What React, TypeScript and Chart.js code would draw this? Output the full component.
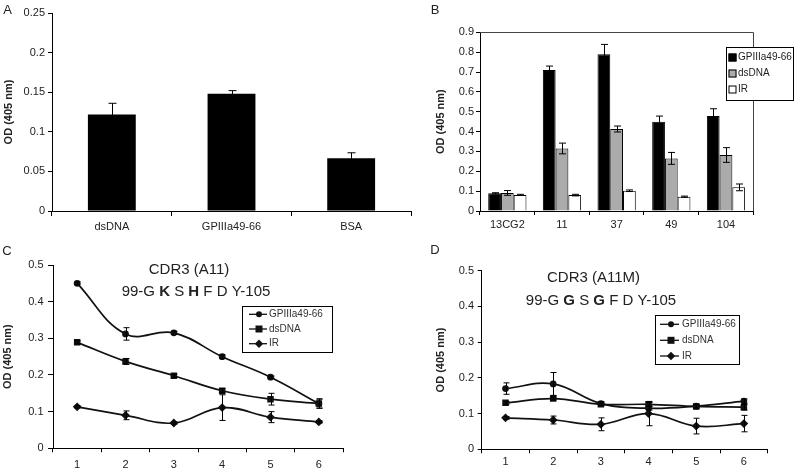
import React, { useEffect, useRef } from "react";
import { Chart, registerables } from "chart.js";
Chart.register(...registerables);

const FONT = "'Liberation Sans', Arial, Helvetica, sans-serif";
const TEXT = "#222";

// ---------- Panel A ----------
const catsA = ["dsDNA", "GPIIIa49-66", "BSA"];
const valsA = [0.122, 0.148, 0.0665];
const errsA = [0.014, 0.004, 0.007];
const yTicksA = ["0", "0.05", "0.1", "0.15", "0.2", "0.25"];

// ---------- Panel B ----------
const seriesNames = ["GPIIIa49-66", "dsDNA", "IR"];
const catsB = ["13CG2", "11", "37", "49", "104"];
const gpB = [0.089, 0.71, 0.79, 0.45, 0.478];
const gpErrB = [0.003, 0.02, 0.049, 0.028, 0.037];
const dsB = [0.091, 0.315, 0.413, 0.265, 0.282];
const dsErrB = [0.012, 0.027, 0.015, 0.03, 0.037];
const irB = [0.081, 0.08, 0.102, 0.072, 0.119];
const irErrB = [0.003, 0.004, 0.004, 0.003, 0.017];
const yTicksB = ["0", "0.1", "0.2", "0.3", "0.4", "0.5", "0.6", "0.7", "0.8", "0.9"];

// ---------- Panels C / D ----------
const catsCD = ["1", "2", "3", "4", "5", "6"];
const yTicksCD = ["0", "0.1", "0.2", "0.3", "0.4", "0.5"];

const gpC = [0.45, 0.312, 0.315, 0.25, 0.194, 0.122];
const gpErrC = [0.004, 0.017, 0.004, 0.005, 0.003, 0.013];
const dsC = [0.289, 0.237, 0.198, 0.157, 0.134, 0.122];
const dsErrC = [0.004, 0.008, 0.004, 0.006, 0.016, 0.012];
const irC = [0.113, 0.09, 0.069, 0.111, 0.085, 0.072];
const irErrC = [0.003, 0.012, 0.003, 0.035, 0.015, 0.003];

const gpD = [0.17, 0.183, 0.128, 0.115, 0.121, 0.135];
const gpErrD = [0.016, 0.032, 0.005, 0.005, 0.005, 0.006];
const dsD = [0.13, 0.142, 0.126, 0.126, 0.12, 0.118];
const dsErrD = [0.004, 0.004, 0.004, 0.005, 0.005, 0.008];
const irD = [0.088, 0.082, 0.07, 0.1, 0.065, 0.072];
const irErrD = [0.004, 0.011, 0.018, 0.034, 0.022, 0.023];

const titleC1: [string, boolean][] = [["CDR3 (A11)", false]];
const titleC2: [string, boolean][] = [["99-G ", false], ["K", true], [" S ", false], ["H", true], [" F D Y-105", false]];
const titleD1: [string, boolean][] = [["CDR3 (A11M)", false]];
const titleD2: [string, boolean][] = [["99-G ", false], ["G", true], [" S ", false], ["G", true], [" F D Y-105", false]];

const markerStyles = ["circle", "rect", "rectRot"];
const yTitle = "OD (405 nm)";

// ---------- helpers ----------
function drawMarker(ctx: CanvasRenderingContext2D, style: string, x: number, y: number) {
  ctx.beginPath();
  if (style === "circle") {
    ctx.arc(x, y, 3, 0, Math.PI * 2);
  } else if (style === "rect") {
    ctx.rect(x - 3.5, y - 3.5, 7, 7);
  } else {
    ctx.moveTo(x, y - 4.2);
    ctx.lineTo(x + 4.2, y);
    ctx.lineTo(x, y + 4.2);
    ctx.lineTo(x - 4.2, y);
    ctx.closePath();
  }
  ctx.fill();
}

const errPlugin = {
  id: "errbars",
  afterDatasetsDraw(chart: any, _a: any, o: any) {
    const ctx = chart.ctx;
    const cap = (o && o.cap) || 3;
    ctx.save();
    ctx.strokeStyle = "#000";
    ctx.lineWidth = 1;
    chart.data.datasets.forEach((ds: any, i: number) => {
      if (!ds.errors) return;
      const meta = chart.getDatasetMeta(i);
      const ys = chart.scales[meta.yAxisID];
      meta.data.forEach((el: any, j: number) => {
        const v = ds.data[j];
        const e = ds.errors[j];
        if (!e) return;
        const x = Math.round(el.x) + 0.5;
        const t = ys.getPixelForValue(v + e);
        const b = ys.getPixelForValue(v - e);
        ctx.beginPath();
        ctx.moveTo(x, t);
        ctx.lineTo(x, b);
        ctx.moveTo(x - cap, t);
        ctx.lineTo(x + cap, t);
        ctx.moveTo(x - cap, b);
        ctx.lineTo(x + cap, b);
        ctx.stroke();
      });
    });
    ctx.restore();
  },
};

function drawRich(ctx: CanvasRenderingContext2D, segs: [string, boolean][], cx: number, cy: number, size: number) {
  const fonts = segs.map(([, b]) => `${b ? "bold " : ""}${size}px ${FONT}`);
  let total = 0;
  const widths = segs.map(([t], i) => {
    ctx.font = fonts[i];
    const w = ctx.measureText(t).width;
    total += w;
    return w;
  });
  let x = cx - total / 2;
  ctx.textAlign = "left";
  ctx.textBaseline = "middle";
  segs.forEach(([t], i) => {
    ctx.font = fonts[i];
    ctx.fillText(t, x, cy);
    x += widths[i];
  });
}

const decoPlugin = {
  id: "deco",
  afterDraw(chart: any, _a: any, o: any) {
    const ctx: CanvasRenderingContext2D = chart.ctx;
    ctx.save();
    ctx.fillStyle = TEXT;
    if (o.letter) {
      ctx.font = `13px ${FONT}`;
      ctx.textAlign = "center";
      ctx.textBaseline = "middle";
      ctx.fillText(o.letter.text, o.letter.x, o.letter.y);
    }
    if (o.frame) {
      const a = chart.chartArea;
      ctx.strokeStyle = "#444";
      ctx.lineWidth = 1;
      ctx.beginPath();
      ctx.moveTo(Math.round(a.left), Math.round(a.top) + 0.5);
      ctx.lineTo(Math.round(a.right) + 0.5, Math.round(a.top) + 0.5);
      ctx.lineTo(Math.round(a.right) + 0.5, Math.round(a.bottom));
      ctx.stroke();
    }
    if (o.titles) {
      o.titles.forEach((tl: any) => {
        ctx.fillStyle = TEXT;
        drawRich(ctx, tl.segs, tl.x, tl.y, tl.size);
      });
    }
    if (o.boxLegend) {
      const L = o.boxLegend;
      ctx.fillStyle = "#fff";
      ctx.fillRect(L.x, L.y, L.w, L.h);
      ctx.strokeStyle = "#000";
      ctx.lineWidth = 1;
      ctx.strokeRect(L.x + 0.5, L.y + 0.5, L.w, L.h);
      L.items.forEach((it: any, i: number) => {
        const y = L.rows[i];
        ctx.fillStyle = it.fill;
        ctx.fillRect(L.sx, y - 4, 8, 8);
        ctx.strokeStyle = "#000";
        ctx.strokeRect(L.sx + 0.5, y - 3.5, 7, 7);
        ctx.fillStyle = TEXT;
        ctx.font = `${L.size}px ${FONT}`;
        ctx.textAlign = "left";
        ctx.textBaseline = "middle";
        ctx.fillText(it.label, L.tx, y);
      });
    }
    if (o.lineLegend) {
      const L = o.lineLegend;
      ctx.fillStyle = "#fff";
      ctx.fillRect(L.x, L.y, L.w, L.h);
      ctx.strokeStyle = "#000";
      ctx.lineWidth = 1;
      ctx.strokeRect(L.x + 0.5, L.y + 0.5, L.w, L.h);
      L.items.forEach((it: any, i: number) => {
        const y = L.rows[i];
        ctx.strokeStyle = "#111";
        ctx.lineWidth = 1.3;
        ctx.beginPath();
        ctx.moveTo(L.l0, y);
        ctx.lineTo(L.l1, y);
        ctx.stroke();
        ctx.fillStyle = "#111";
        drawMarker(ctx, it.style, L.mx, y);
        ctx.fillStyle = "#333";
        ctx.font = `${L.size}px ${FONT}`;
        ctx.textAlign = "left";
        ctx.textBaseline = "middle";
        ctx.fillText(it.label, L.tx, y);
      });
    }
    ctx.restore();
  },
};

function yAxis(max: number, step: number, labels: string[], width: number, tl: number, pad: number, titlePad: number) {
  return {
    type: "linear",
    min: 0,
    max,
    ticks: {
      stepSize: step,
      padding: pad,
      color: TEXT,
      font: { family: FONT, size: 11 },
      callback: (_v: any, i: number) => labels[i] ?? "",
    },
    grid: { drawOnChartArea: false, drawTicks: true, tickLength: tl, color: "#000", lineWidth: 1 },
    border: { display: true, color: "#000", width: 1 },
    title: {
      display: true,
      text: yTitle,
      color: TEXT,
      font: { family: FONT, size: 11, weight: "bold" },
      padding: { top: titlePad, bottom: 0 },
    },
    afterFit: (s: any) => {
      s.width = width;
    },
  };
}

function xAxis(height: number, tl: number, pad: number) {
  return {
    type: "category",
    offset: true,
    ticks: { padding: pad, color: TEXT, font: { family: FONT, size: 11 }, maxRotation: 0, autoSkip: false },
    grid: { offset: true, drawOnChartArea: false, drawTicks: true, tickLength: tl, color: "#000", lineWidth: 1 },
    border: { display: true, color: "#000", width: 1 },
    afterFit: (s: any) => {
      s.height = height;
    },
  };
}

const basePlugins = { legend: { display: false }, tooltip: { enabled: false } };

function configA() {
  return {
    type: "bar",
    data: {
      labels: catsA,
      datasets: [
        {
          data: valsA,
          errors: errsA,
          backgroundColor: "#000",
          barPercentage: 0.4,
          categoryPercentage: 1,
        },
      ],
    },
    options: {
      responsive: false,
      animation: false,
      devicePixelRatio: 1,
      layout: { padding: { left: 0, top: 13, right: 9, bottom: 0 } },
      scales: { x: xAxis(24, 5, 4), y: yAxis(0.25, 0.05, yTicksA, 52, 4, 3, 2) },
      plugins: { ...basePlugins, errbars: { cap: 4 }, deco: { letter: { text: "A", x: 7.5, y: 10 } } },
    },
    plugins: [errPlugin, decoPlugin],
  };
}

function configB() {
  const mk = (label: string, data: number[], errors: number[], fill: string) => ({
    label,
    data,
    errors,
    backgroundColor: fill,
    borderColor: "#000",
    borderWidth: 1,
    barPercentage: 1,
    categoryPercentage: 0.7,
  });
  return {
    type: "bar",
    data: {
      labels: catsB,
      datasets: [
        mk(seriesNames[0], gpB, gpErrB, "#000"),
        mk(seriesNames[1], dsB, dsErrB, "#ababab"),
        mk(seriesNames[2], irB, irErrB, "#fff"),
      ],
    },
    options: {
      responsive: false,
      animation: false,
      devicePixelRatio: 1,
      layout: { padding: { left: 12.4, top: 32.3, right: 46.7, bottom: 0 } },
      scales: { x: xAxis(24, 4, 3), y: yAxis(0.9, 0.1, yTicksB, 47.6, 4, 2, 2) },
      plugins: {
        ...basePlugins,
        errbars: { cap: 3.5 },
        deco: {
          letter: { text: "B", x: 15, y: 10 },
          frame: true,
          boxLegend: {
            x: 306,
            y: 47,
            w: 67,
            h: 53,
            rows: [57.5, 73.5, 89.5],
            sx: 308.5,
            tx: 318,
            size: 10,
            items: [
              { label: seriesNames[0], fill: "#000" },
              { label: seriesNames[1], fill: "#ababab" },
              { label: seriesNames[2], fill: "#fff" },
            ],
          },
        },
      },
    },
    plugins: [errPlugin, decoPlugin],
  };
}

function configLine(
  gp: number[], gpE: number[], ds: number[], dsE: number[], ir: number[], irE: number[],
  geo: any, deco: any
) {
  const mk = (label: string, data: number[], errors: number[], style: string) => ({
    label,
    data,
    errors,
    borderColor: "#111",
    backgroundColor: "#111",
    borderWidth: 1.7,
    tension: 0.4,
    pointStyle: style,
    pointRadius: style === "rectRot" ? 4.4 : style === "rect" ? 4.6 : 3.4,
    pointBackgroundColor: "#111",
    pointBorderColor: "#111",
    pointBorderWidth: 0,
    fill: false,
  });
  return {
    type: "line",
    data: {
      labels: catsCD,
      datasets: [
        mk(seriesNames[0], gp, gpE, markerStyles[0]),
        mk(seriesNames[1], ds, dsE, markerStyles[1]),
        mk(seriesNames[2], ir, irE, markerStyles[2]),
      ],
    },
    options: {
      responsive: false,
      animation: false,
      devicePixelRatio: 1,
      layout: { padding: geo.padding },
      scales: {
        x: xAxis(geo.xh, 4, geo.xpad),
        y: yAxis(0.5, 0.1, yTicksCD, geo.yw, geo.ytl, geo.ypad, geo.tpad),
      },
      plugins: { ...basePlugins, errbars: { cap: 3 }, deco },
    },
    plugins: [errPlugin, decoPlugin],
  };
}

function configC() {
  return configLine(
    gpC, gpErrC, dsC, dsErrC, irC, irErrC,
    { padding: { left: 0, top: 30, right: 57, bottom: 0 }, xh: 21.7, xpad: 6, yw: 53, ytl: 5, ypad: 4.5, tpad: 1.4 },
    {
      letter: { text: "C", x: 7, y: 16 },
      titles: [
        { segs: titleC1, x: 189, y: 35, size: 15 },
        { segs: titleC2, x: 196, y: 57, size: 15 },
      ],
      lineLegend: {
        x: 242,
        y: 71,
        w: 90,
        h: 46,
        rows: [79.3, 94, 108.7],
        l0: 249,
        l1: 267,
        mx: 259,
        tx: 269,
        size: 10,
        items: seriesNames.map((label, i) => ({ label, style: markerStyles[i] })),
      },
    }
  );
}

function configD() {
  return configLine(
    gpD, gpErrD, dsD, dsErrD, irD, irErrD,
    { padding: { left: 32.4, top: 35.7, right: 32.3, bottom: 0 }, xh: 20.7, xpad: 2, yw: 49.3, ytl: 4, ypad: 3.7, tpad: 2 },
    {
      letter: { text: "D", x: 35, y: 15 },
      titles: [
        { segs: titleD1, x: 193.5, y: 43, size: 15 },
        { segs: titleD2, x: 201, y: 66, size: 15 },
      ],
      lineLegend: {
        x: 255,
        y: 80,
        w: 84,
        h: 49,
        rows: [89.3, 105.3, 121],
        l0: 260,
        l1: 279,
        mx: 271,
        tx: 282,
        size: 10,
        items: seriesNames.map((label, i) => ({ label, style: markerStyles[i] })),
      },
    }
  );
}

function Panel(props: { left: number; top: number; width: number; height: number; make: () => any }) {
  const ref = useRef<HTMLCanvasElement>(null);
  useEffect(() => {
    const chart = new Chart(ref.current as HTMLCanvasElement, props.make());
    return () => chart.destroy();
  }, []);
  return (
    <canvas
      ref={ref}
      width={props.width}
      height={props.height}
      style={{ position: "absolute", left: props.left, top: props.top, width: props.width, height: props.height }}
    />
  );
}

export default function App() {
  return (
    <div style={{ position: "absolute", left: 0, top: 0, width: 800, height: 470, background: "#fff", overflow: "hidden" }}>
      <Panel left={0} top={0} width={420} height={235} make={configA} />
      <Panel left={420} top={0} width={380} height={235} make={configB} />
      <Panel left={0} top={235} width={400} height={235} make={configC} />
      <Panel left={400} top={235} width={400} height={235} make={configD} />
    </div>
  );
}
